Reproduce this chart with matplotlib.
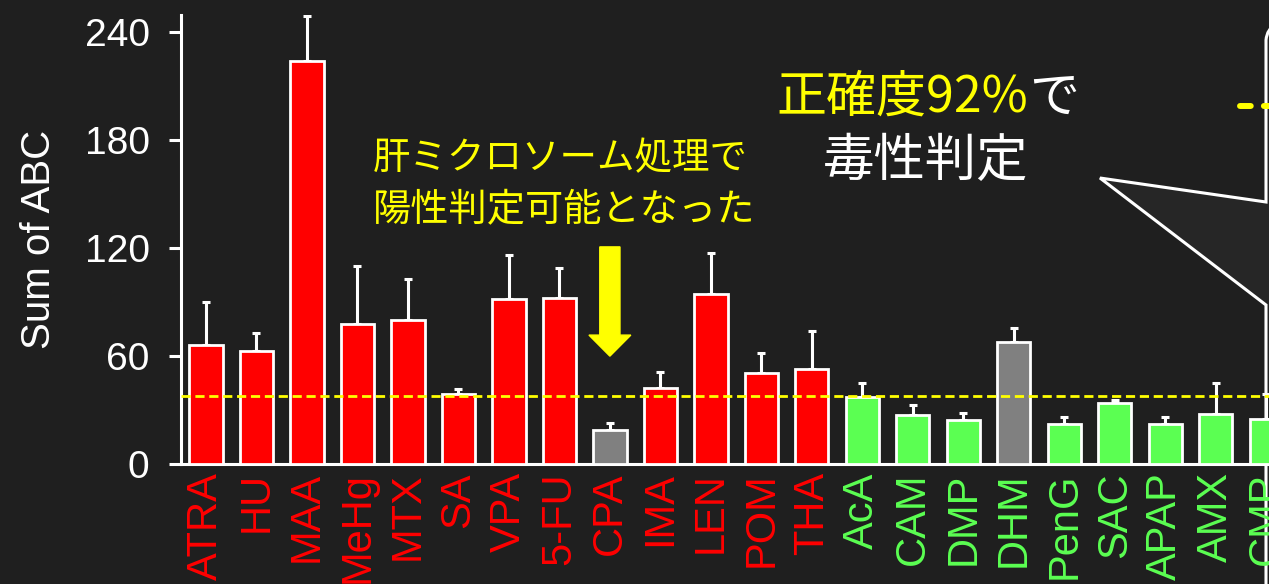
import numpy as np
import matplotlib
matplotlib.use("Agg")
import matplotlib.pyplot as plt
from matplotlib.path import Path
from matplotlib.patches import PathPatch
from matplotlib.lines import Line2D

plt.rcParams['font.family'] = ['Liberation Sans', 'Noto Sans CJK JP']

# compounds, mean Sum of ABC and upper SD
drugs = ["ATRA", "HU", "MAA", "MeHg", "MTX", "SA", "VPA", "5-FU", "CPA", "IMA",
         "LEN", "POM", "THA", "AcA", "CAM", "DMP", "DHM", "PenG", "SAC", "APAP",
         "AMX", "CMP"]
means = [66, 63, 224, 78, 80, 38.7, 91.5, 92, 19, 42,
         94.3, 50.7, 52.8, 37, 27, 24.3, 68, 22, 33.7, 22,
         28, 25]
sds = [24, 10, 25, 32, 23, 2.8, 24.5, 17, 4, 9,
       23, 10.8, 21, 8, 6, 4.2, 7.6, 4, 1.9, 4.3,
       17, 14]
toxic = [True] * 13 + [False] * 9
gray_idx = [8, 16]  # CPA, DHM
threshold = 37.8

bg = "#1f1f1f"
red = "#FF0000"
green = "#5BFF52"
yellow = "#FFFF00"

W, H = 1269, 584
fig = plt.figure(figsize=(W / 100, H / 100), dpi=100, facecolor=bg)


def px(x, y):
    return (x / W, 1 - y / H)


ax = fig.add_axes([181 / W, 120 / H, 1115.5 / W, 449 / H])
ax.patch.set_visible(False)

x = np.arange(len(drugs))
colors = [red if t else green for t in toxic]
for i in gray_idx:
    colors[i] = "#808080"

ax.bar(x, means, width=0.66, color=colors, edgecolor="white", linewidth=2.0, zorder=3)
ax.errorbar(x, means, yerr=[np.zeros(len(sds)), sds], fmt="none", ecolor="white",
            elinewidth=2.2, capsize=3, capthick=2.2, zorder=2)
ax.axhline(threshold, color=yellow, lw=2, dashes=(3.3, 1.7), zorder=4)

# arrow pointing at CPA
ax.arrow(8, 120.6, 0, -49, width=0.40, head_width=0.83, head_length=11.7,
         length_includes_head=False, color=yellow, zorder=5)

ax.set_xlim(-0.495, 21.6)
ax.set_ylim(0, 249.4)
ax.set_yticks([0, 60, 120, 180, 240])
ax.set_xticks(x)
ax.set_xticklabels(drugs, rotation=90, fontsize=30, va="top")
for lab, t in zip(ax.get_xticklabels(), toxic):
    lab.set_color(red if t else green)
ax.tick_params(axis="x", length=0, pad=6)
ax.tick_params(axis="y", length=8.6, width=2.2, color="white", labelcolor="white",
               labelsize=28, pad=14)
ax.set_ylabel("Sum of ABC", color="white", fontsize=29, labelpad=19)

for s in ["top", "right"]:
    ax.spines[s].set_visible(False)
for s in ["left", "bottom"]:
    ax.spines[s].set_color("white")
    ax.spines[s].set_linewidth(2.2)

# annotation texts
jp = ["Noto Sans CJK JP"]
fig.text(*px(373, 159), "肝ミクロソーム処理で", color=yellow, fontsize=27,
         family=jp, ha="left", va="center")
fig.text(*px(373, 210), "陽性判定可能となった", color=yellow, fontsize=27.5,
         family=jp, ha="left", va="center")
t1 = fig.text(*px(776, 112), "正確度92%", color=yellow, fontsize=36,
              family=jp, ha="left", va="baseline")
ax.annotate("で", xy=(1, 0), xycoords=t1, xytext=(1, 0), textcoords="offset points",
            color="white", fontsize=36, family=jp, ha="left", va="bottom",
            annotation_clip=False)
fig.text(*px(926, 176), "毒性判定", color="white", fontsize=37, family=jp,
         ha="center", va="baseline")

# speech bubble on the right
verts = [px(1300, 24), px(1276, 24), px(1267, 29), px(1266, 40), px(1266, 202),
         px(1100, 178), px(1266, 305), px(1266, 600)]
codes = [Path.MOVETO, Path.LINETO, Path.CURVE3, Path.CURVE3, Path.LINETO,
         Path.LINETO, Path.LINETO, Path.LINETO]
bubble = PathPatch(Path(verts, codes), facecolor="#262626", edgecolor="white",
                   lw=2.2, transform=fig.transFigure, zorder=-1)
fig.add_artist(bubble)

(x0, y0), (x1, y1) = px(1240, 106), px(1275, 106)
fig.add_artist(Line2D([x0, x1], [y0, y1], transform=fig.transFigure, color=yellow,
                      lw=4.3, dashes=(1.8, 2.2), dash_capstyle="round", zorder=6))

fig.savefig("out.png", dpi=100, facecolor=bg)
